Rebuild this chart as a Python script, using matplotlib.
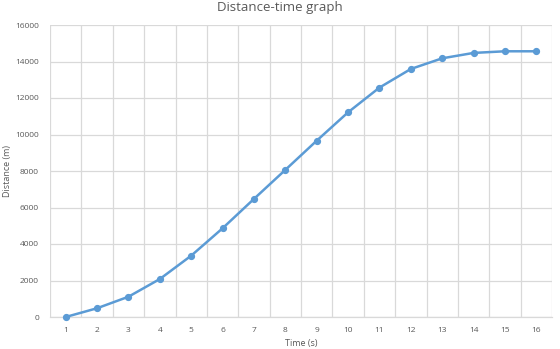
import matplotlib.pyplot as plt
from matplotlib.ticker import FixedLocator

times = [1, 2, 3, 4, 5, 6, 7, 8, 9, 10, 11, 12, 13, 14, 15, 16]
distance = [0, 480, 1110, 2080, 3360, 4860, 6470, 8060, 9660, 11215, 12570,
            13590, 14175, 14470, 14560, 14560]
y_ticks = [0, 2000, 4000, 6000, 8000, 10000, 12000, 14000, 16000]

plt.rcParams['font.family'] = ['Open Sans', 'DejaVu Sans']
grey = '#595959'
blue = '#5B9BD5'

fig = plt.figure(figsize=(5.6, 3.49), dpi=100)
ax = fig.add_axes([50 / 560, 1 - 317 / 349, 502 / 560, 292 / 349])

x = list(range(len(times)))
ax.plot(x, distance, color=blue, linewidth=1.8, marker='o', markersize=4.2,
        markerfacecolor=blue, markeredgecolor=blue, zorder=3, clip_on=False)

ax.set_xlim(-0.5, len(times) - 0.5)
ax.set_ylim(0, 16000)
ax.set_xticks(x)
ax.set_xticklabels([str(t) for t in times])
ax.xaxis.set_minor_locator(FixedLocator([i - 0.5 for i in range(len(times) + 1)]))
ax.set_yticks(y_ticks)

ax.grid(True, which='minor', axis='x', color='#D9D9D9', linewidth=0.9)
ax.grid(True, which='major', axis='y', color='#D9D9D9', linewidth=0.9)
ax.grid(False, which='major', axis='x')

for s in ['top', 'right', 'left']:
    ax.spines[s].set_visible(False)
ax.spines['bottom'].set_color('#D9D9D9')
ax.spines['bottom'].set_linewidth(0.9)

ax.tick_params(axis='both', which='both', length=0, labelsize=6, labelcolor=grey)
ax.tick_params(axis='x', pad=7)
ax.tick_params(axis='y', pad=8)

ax.set_xlabel('Time (s)', fontsize=6.5, color=grey, labelpad=4)
ax.set_ylabel('Distance (m)', fontsize=6.5, color=grey)
ax.yaxis.set_label_coords(-38 / 502, 0.5)
fig.text(0.5, 1 - 7 / 349, 'Distance-time graph', ha='center', va='center',
         fontsize=9.5, color=grey)

fig.savefig('out.png', dpi=100)
